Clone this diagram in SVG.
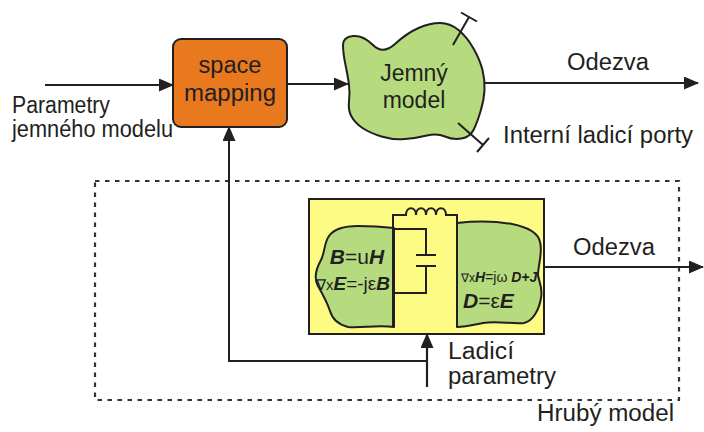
<svg xmlns="http://www.w3.org/2000/svg" width="704" height="432" viewBox="0 0 704 432">
  <style>
    .lbl { font-family: "Liberation Sans", Arial, sans-serif; font-size: 23px; fill: #231f20; }
    .wire { fill: none; stroke: #231f20; stroke-width: 2; }
    .conn { fill: none; stroke: #231f20; stroke-width: 2.2; }
    .blob { fill: #b6db7e; stroke: #231f20; stroke-width: 2; stroke-linejoin: round; }
    .eq { font-family: "Liberation Sans", Arial, sans-serif; fill: #231f20; }
    .bi { font-weight: bold; font-style: italic; }
  </style>
  <defs>
    <marker id="arrow" viewBox="0 0 15 13" refX="14" refY="6.5" markerWidth="15" markerHeight="13" markerUnits="userSpaceOnUse" orient="auto">
      <path d="M0,0 L15,6.5 L0,13 Z" fill="#231f20"/>
    </marker>
  </defs>
  <rect width="704" height="432" fill="#ffffff"/>

  <!-- coarse model boundary -->
  <g id="coarse-boundary">
    <rect x="95" y="181" width="584" height="219" fill="none" stroke="#333" stroke-width="2.2" stroke-dasharray="4.5 5.5"/>
    <text class="lbl" x="537" y="421" textLength="137" lengthAdjust="spacingAndGlyphs">Hrubý model</text>
  </g>

  <!-- space mapping block -->
  <g id="space-mapping">
    <rect x="173" y="39" width="114" height="88" rx="8" ry="8" fill="#e8791f" stroke="#231f20" stroke-width="2"/>
    <text class="lbl" x="230" y="73" text-anchor="middle" font-size="24" textLength="63" lengthAdjust="spacingAndGlyphs">space</text>
    <text class="lbl" x="230" y="101" text-anchor="middle" font-size="24" textLength="92" lengthAdjust="spacingAndGlyphs">mapping</text>
  </g>

  <!-- fine model -->
  <g id="fine-model">
    <path class="blob" d="M353,36 Q363,35 373,45 Q383,55 395,44 Q407,33 418.5,28 Q430,23 440,23 Q450,23 458.5,30 Q467,37 473.5,48.5 Q480,60 482.5,70 Q485,80 484.5,90 Q484,100 480.5,111.5 Q477,123 473.5,130 Q470,137 461.5,138.5 Q453,140 445,136.5 Q437,133 427,135.5 Q417,138 405,139 Q393,140 381.5,136.5 Q370,133 362.5,128 Q355,123 351.5,116.5 Q348,110 349,101.5 Q350,93 349,85 Q348,77 345.5,65 Q343,53 343,45 Q343,37 353,36 Z"/>
    <text class="lbl" x="414" y="81" text-anchor="middle" font-size="23">Jemný</text>
    <text class="lbl" x="414" y="108" text-anchor="middle" font-size="23">model</text>
    <!-- internal tuning ports -->
    <path class="wire" d="M453,45 L469,17 M461,12.5 L477,21.5"/>
    <path class="wire" d="M458,123 L483,145 M477,152 L489,138"/>
  </g>

  <!-- coarse model: EM regions with lumped tuning circuit -->
  <g id="coarse-model">
    <rect x="309" y="199" width="235" height="135" fill="#fdfb84" stroke="#231f20" stroke-width="2"/>
    <path class="blob" d="M394,228 C385,227 370,226 358,226 C345,226 334,229 329,236 C324,243 325,252 321,260 C316,269 314,279 318,286 C322,293 327,302 330,311 C332,318 336,324 348,327 C362,328 378,325 394,327 Z"/>
    <path class="blob" d="M457,223 C475,221 495,221 512,224 C527,227 538,232 540,242 C543,252 538,265 538,275 C539,282 543,288 541,298 C539,310 533,321 524,323 C512,324 497,321 483,323 C473,325 465,327 457,327 Z"/>
    <!-- inductor and capacitor -->
    <path class="wire" d="M393,327 V215 H406 C406,206 416,206 416,215 C416,206 426,206 426,215 C426,206 436,206 436,215 C436,206 446,206 446,215 H457 V327"/>
    <path class="wire" d="M393,229 H426 V255 M416,255 H436 M416,266 H436 M426,266 V293 H393"/>
    <text class="eq" x="357" y="264" text-anchor="middle" font-size="21"><tspan class="bi">B</tspan>=u<tspan class="bi">H</tspan></text>
    <text class="eq" x="316" y="290" font-size="19"><tspan font-size="15">∇x</tspan><tspan class="bi">E</tspan>=-jε<tspan class="bi">B</tspan></text>
    <text class="eq" x="461" y="282" font-size="14"><tspan font-size="12">∇x</tspan><tspan class="bi">H</tspan>=jω <tspan class="bi">D+J</tspan></text>
    <text class="eq" x="463" y="308" font-size="21"><tspan class="bi">D</tspan>=ε<tspan class="bi">E</tspan></text>
  </g>

  <!-- connectors -->
  <g id="connectors">
    <path class="conn" d="M45,85 H173" marker-end="url(#arrow)"/>
    <path class="conn" d="M287,84 H348" marker-end="url(#arrow)"/>
    <path class="conn" d="M485,83 H698" marker-end="url(#arrow)"/>
    <path class="conn" d="M544,267 H703" marker-end="url(#arrow)"/>
    <path class="wire" d="M427,361 H229 V127" marker-end="url(#arrow)"/>
    <path class="conn" d="M427,387 V334" marker-end="url(#arrow)"/>
  </g>

  <!-- labels -->
  <g id="labels">
    <text class="lbl" x="12" y="113" font-size="21" textLength="98" lengthAdjust="spacingAndGlyphs">Parametry</text>
    <text class="lbl" x="12" y="137" font-size="21" textLength="161" lengthAdjust="spacingAndGlyphs">jemného modelu</text>
    <text class="lbl" x="567" y="70" textLength="82" lengthAdjust="spacingAndGlyphs">Odezva</text>
    <text class="lbl" x="503" y="143" textLength="190" lengthAdjust="spacingAndGlyphs">Interní ladicí porty</text>
    <text class="lbl" x="573" y="255" textLength="82" lengthAdjust="spacingAndGlyphs">Odezva</text>
    <text class="lbl" x="448" y="359" textLength="66" lengthAdjust="spacingAndGlyphs">Ladicí</text>
    <text class="lbl" x="448" y="384" textLength="108" lengthAdjust="spacingAndGlyphs">parametry</text>
  </g>
</svg>
